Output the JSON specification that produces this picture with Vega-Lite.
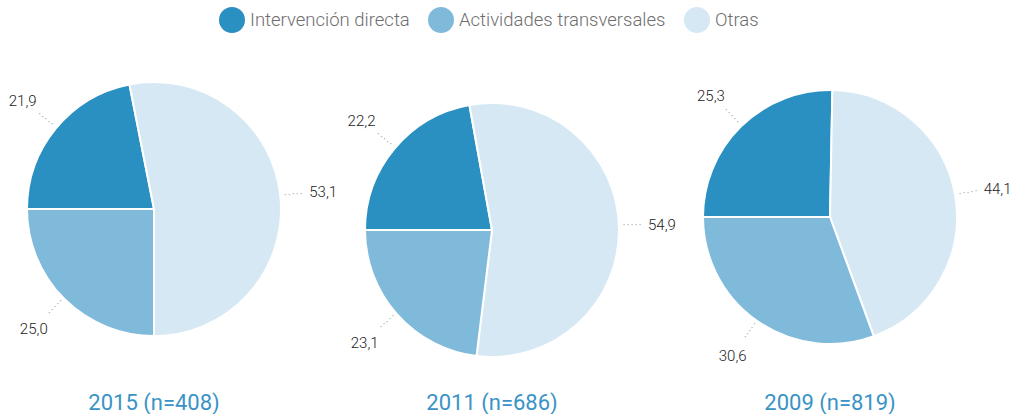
{
  "$schema": "https://vega.github.io/schema/vega-lite/v6.json",
  "padding": {"top": 7, "left": 0, "right": 0, "bottom": 0},
  "background": "white",
  "config": {
    "view": {"stroke": null},
    "font": "Roboto",
    "locale": {"number": {"decimal": ",", "thousands": ".", "grouping": [3], "currency": ["", " €"]}},
    "title": {"fontSize": 22, "fontWeight": 400, "color": "#3a93c6", "font": "Roboto", "anchor": "middle"},
    "concat": {"spacing": 30}
  },
  "datasets": {
    "d": [
      {"anio": "2015", "categoria": "Intervención directa", "valor": 21.9, "orden": 1},
      {"anio": "2015", "categoria": "Otras", "valor": 53.1, "orden": 2},
      {"anio": "2015", "categoria": "Actividades transversales", "valor": 25.0, "orden": 3},
      {"anio": "2011", "categoria": "Intervención directa", "valor": 22.2, "orden": 1},
      {"anio": "2011", "categoria": "Otras", "valor": 54.9, "orden": 2},
      {"anio": "2011", "categoria": "Actividades transversales", "valor": 23.1, "orden": 3},
      {"anio": "2009", "categoria": "Intervención directa", "valor": 25.3, "orden": 1},
      {"anio": "2009", "categoria": "Otras", "valor": 44.1, "orden": 2},
      {"anio": "2009", "categoria": "Actividades transversales", "valor": 30.6, "orden": 3}
    ]
  },
  "data": {"name": "d"},
  "bounds": "flush",
  "resolve": {"scale": {"color": "shared", "theta": "independent"}, "legend": {"color": "shared"}},
  "hconcat": [
    {
      "width": 308, "height": 298,
      "title": {"text": "2015 (n=408)", "orient": "bottom", "offset": 35},
      "transform": [{"filter": "datum.anio == '2015'"}],
      "encoding": {
        "theta": {"field": "valor", "type": "quantitative", "stack": "normalize", "scale": {"range": [4.71238898, 10.99557429]}},
        "order": {"field": "orden", "type": "quantitative"},
        "color": {"field": "categoria", "type": "nominal",
          "scale": {"domain": ["Intervención directa", "Actividades transversales", "Otras"], "range": ["#2a8fc1", "#7fbadb", "#d5e8f3"]},
          "legend": {"title": null, "orient": "none", "legendX": 219, "legendY": -53, "direction": "horizontal", "symbolType": "circle", "symbolSize": 676, "symbolStrokeWidth": 0, "labelFontSize": 18.5, "labelFont": "Roboto", "labelFontWeight": 300, "labelColor": "#6e6e6e", "labelOffset": 5, "labelLimit": 400, "columnPadding": 18}}
      },
      "layer": [
        {"mark": {"type": "arc", "outerRadius": 127, "stroke": "white", "strokeWidth": 2}},
        {"mark": {"type": "text", "radius": 132, "fontSize": 10}, "encoding": {"color": {"value": "#9a9a9a"}, "detail": {"field": "categoria"}, "text": {"value": "·"}}},
        {"mark": {"type": "text", "radius": 136, "fontSize": 10}, "encoding": {"color": {"value": "#9a9a9a"}, "detail": {"field": "categoria"}, "text": {"value": "·"}}},
        {"mark": {"type": "text", "radius": 140, "fontSize": 10}, "encoding": {"color": {"value": "#9a9a9a"}, "detail": {"field": "categoria"}, "text": {"value": "·"}}},
        {"mark": {"type": "text", "radius": 144, "fontSize": 10}, "encoding": {"color": {"value": "#9a9a9a"}, "detail": {"field": "categoria"}, "text": {"value": "·"}}},
        {"mark": {"type": "text", "radius": 148, "fontSize": 10}, "encoding": {"color": {"value": "#9a9a9a"}, "detail": {"field": "categoria"}, "text": {"value": "·"}}},
        {"mark": {"type": "text", "radius": 170, "fontSize": 15, "font": "Roboto", "fontWeight": 300}, "encoding": {"color": {"value": "#222222"}, "detail": {"field": "categoria"}, "text": {"field": "valor", "type": "quantitative", "format": ".1f"}}}
      ]
    },
    {
      "width": 308, "height": 340,
      "title": {"text": "2011 (n=686)", "orient": "bottom", "offset": -7},
      "transform": [{"filter": "datum.anio == '2011'"}],
      "encoding": {
        "theta": {"field": "valor", "type": "quantitative", "stack": "normalize", "scale": {"range": [4.71238898, 10.99557429]}},
        "order": {"field": "orden", "type": "quantitative"},
        "color": {"field": "categoria", "type": "nominal",
          "scale": {"domain": ["Intervención directa", "Actividades transversales", "Otras"], "range": ["#2a8fc1", "#7fbadb", "#d5e8f3"]},
          "legend": {"title": null, "orient": "none", "legendX": 219, "legendY": -53, "direction": "horizontal", "symbolType": "circle", "symbolSize": 676, "symbolStrokeWidth": 0, "labelFontSize": 18.5, "labelFont": "Roboto", "labelFontWeight": 300, "labelColor": "#6e6e6e", "labelOffset": 5, "labelLimit": 400, "columnPadding": 18}}
      },
      "layer": [
        {"mark": {"type": "arc", "outerRadius": 127, "stroke": "white", "strokeWidth": 2}},
        {"mark": {"type": "text", "radius": 132, "fontSize": 10}, "encoding": {"color": {"value": "#9a9a9a"}, "detail": {"field": "categoria"}, "text": {"value": "·"}}},
        {"mark": {"type": "text", "radius": 136, "fontSize": 10}, "encoding": {"color": {"value": "#9a9a9a"}, "detail": {"field": "categoria"}, "text": {"value": "·"}}},
        {"mark": {"type": "text", "radius": 140, "fontSize": 10}, "encoding": {"color": {"value": "#9a9a9a"}, "detail": {"field": "categoria"}, "text": {"value": "·"}}},
        {"mark": {"type": "text", "radius": 144, "fontSize": 10}, "encoding": {"color": {"value": "#9a9a9a"}, "detail": {"field": "categoria"}, "text": {"value": "·"}}},
        {"mark": {"type": "text", "radius": 148, "fontSize": 10}, "encoding": {"color": {"value": "#9a9a9a"}, "detail": {"field": "categoria"}, "text": {"value": "·"}}},
        {"mark": {"type": "text", "radius": 170, "fontSize": 15, "font": "Roboto", "fontWeight": 300}, "encoding": {"color": {"value": "#222222"}, "detail": {"field": "categoria"}, "text": {"field": "valor", "type": "quantitative", "format": ".1f"}}}
      ]
    },
    {
      "width": 308, "height": 314,
      "title": {"text": "2009 (n=819)", "orient": "bottom", "offset": 19},
      "transform": [{"filter": "datum.anio == '2009'"}],
      "encoding": {
        "theta": {"field": "valor", "type": "quantitative", "stack": "normalize", "scale": {"range": [4.71238898, 10.99557429]}},
        "order": {"field": "orden", "type": "quantitative"},
        "color": {"field": "categoria", "type": "nominal",
          "scale": {"domain": ["Intervención directa", "Actividades transversales", "Otras"], "range": ["#2a8fc1", "#7fbadb", "#d5e8f3"]},
          "legend": {"title": null, "orient": "none", "legendX": 219, "legendY": -53, "direction": "horizontal", "symbolType": "circle", "symbolSize": 676, "symbolStrokeWidth": 0, "labelFontSize": 18.5, "labelFont": "Roboto", "labelFontWeight": 300, "labelColor": "#6e6e6e", "labelOffset": 5, "labelLimit": 400, "columnPadding": 18}}
      },
      "layer": [
        {"mark": {"type": "arc", "outerRadius": 127, "stroke": "white", "strokeWidth": 2}},
        {"mark": {"type": "text", "radius": 132, "fontSize": 10}, "encoding": {"color": {"value": "#9a9a9a"}, "detail": {"field": "categoria"}, "text": {"value": "·"}}},
        {"mark": {"type": "text", "radius": 136, "fontSize": 10}, "encoding": {"color": {"value": "#9a9a9a"}, "detail": {"field": "categoria"}, "text": {"value": "·"}}},
        {"mark": {"type": "text", "radius": 140, "fontSize": 10}, "encoding": {"color": {"value": "#9a9a9a"}, "detail": {"field": "categoria"}, "text": {"value": "·"}}},
        {"mark": {"type": "text", "radius": 144, "fontSize": 10}, "encoding": {"color": {"value": "#9a9a9a"}, "detail": {"field": "categoria"}, "text": {"value": "·"}}},
        {"mark": {"type": "text", "radius": 148, "fontSize": 10}, "encoding": {"color": {"value": "#9a9a9a"}, "detail": {"field": "categoria"}, "text": {"value": "·"}}},
        {"mark": {"type": "text", "radius": 170, "fontSize": 15, "font": "Roboto", "fontWeight": 300}, "encoding": {"color": {"value": "#222222"}, "detail": {"field": "categoria"}, "text": {"field": "valor", "type": "quantitative", "format": ".1f"}}}
      ]
    }
  ]
}
